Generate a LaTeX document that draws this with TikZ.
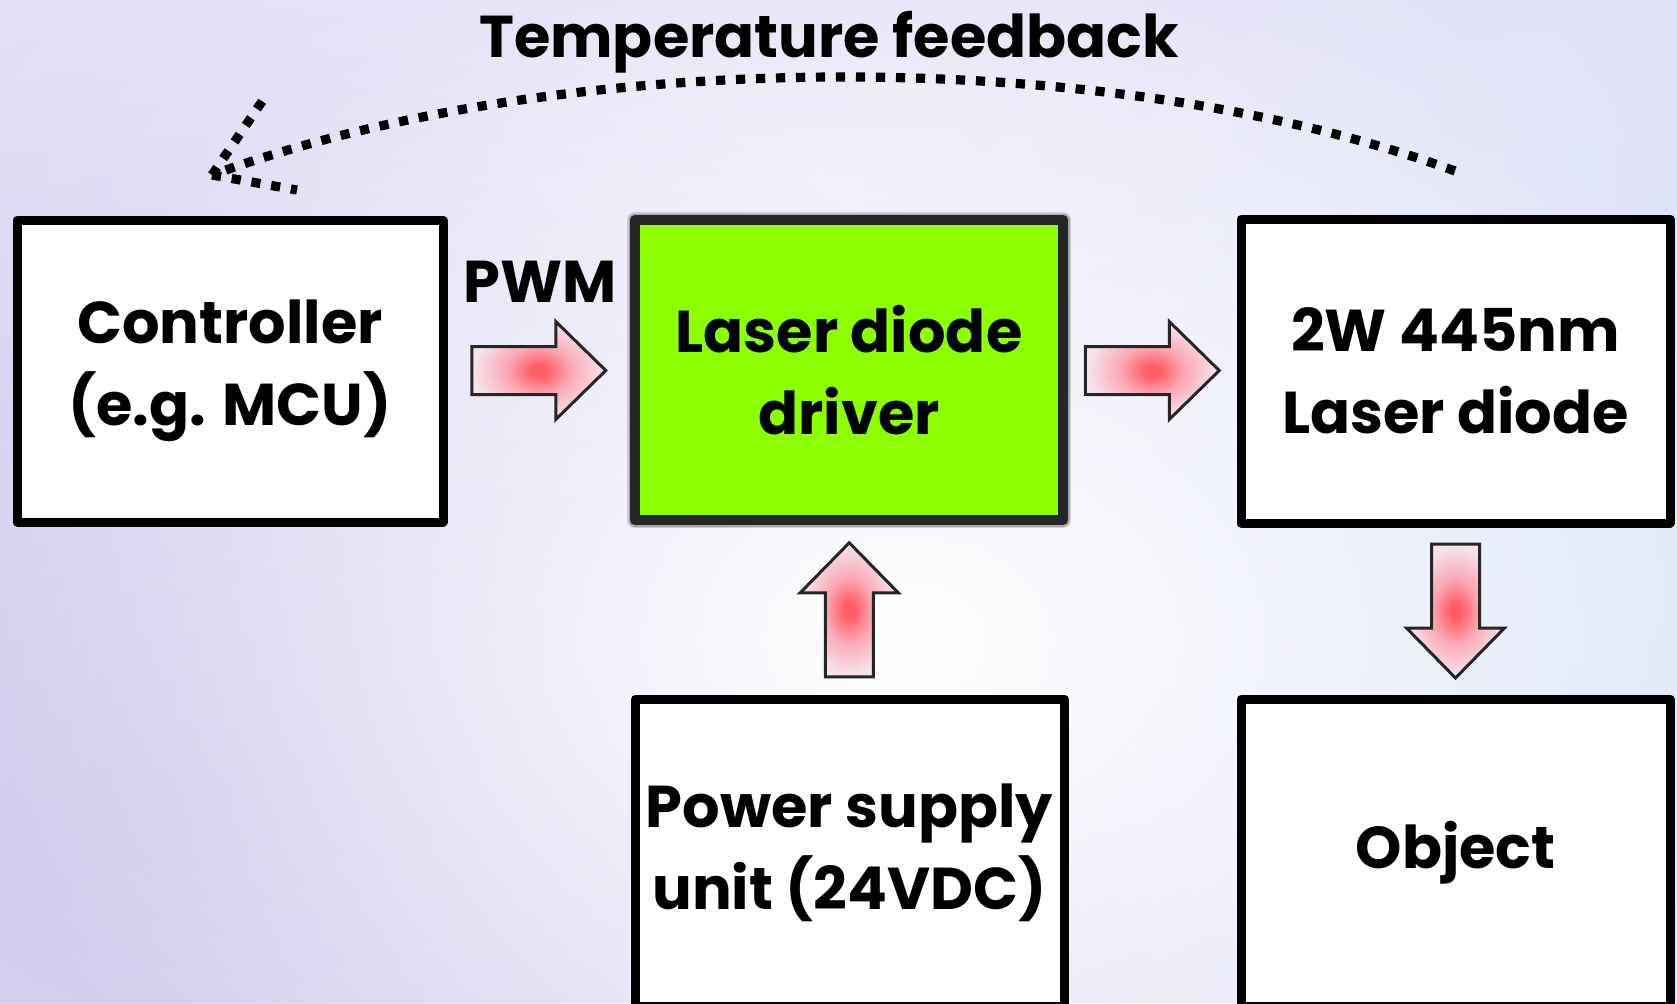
\documentclass[tikz,border=0pt]{standalone}
\usepackage{fontspec}
\setmainfont{Poppins}
\usetikzlibrary{calc,fadings}
\definecolor{bgbase}{HTML}{E3DFF7}
\definecolor{bgleft}{HTML}{D0C8EC}
\definecolor{bgright}{HTML}{DDE7F9}
\definecolor{drvgreen}{RGB}{140,255,0}
\definecolor{arrowred}{RGB}{255,95,105}
\definecolor{arrowpink}{RGB}{250,168,180}
\definecolor{arrowpale}{RGB}{246,226,236}
\pgfdeclareradialshading{arrowglow}{\pgfpoint{0bp}{0bp}}{color(0bp)=(arrowred); color(3bp)=(arrowred); color(12bp)=(arrowpink); color(24bp)=(arrowpale); color(50bp)=(arrowpale)}
\tikzfading[name=glow, inner color=transparent!0, outer color=transparent!100]
\newcommand\boxfont{\bfseries\fontsize{29.5}{41}\selectfont}
\newcommand\titlefont{\bfseries\fontsize{29.5}{30}\selectfont}
\newcommand\blockarrow[2]{%
  \shadedraw[arrowsty, shift={#1}, rotate=#2]
    (-67,-24) -- (17,-24) -- (17,-49) -- (67,0) -- (17,49) -- (17,24) -- (-67,24) -- cycle;}
\begin{document}
\begin{tikzpicture}[x=0.5pt,y=-0.5pt,
  box/.style={draw=black, line width=4.5pt, fill=white, minimum width=213pt,
    minimum height=151pt, align=center, inner sep=0pt, line join=round, font=\boxfont},
  title/.style={font=\titlefont, inner sep=0pt},
  arrowsty/.style={shading=arrowglow, draw=black!85, line width=1.5pt, line join=miter},
  fb/.style={line width=4.6pt, dash pattern=on 4.6pt off 5.4pt, line cap=butt}]
\useasboundingbox (0,0) rectangle (1677,1003);
% background
\fill[bgbase] (0,0) rectangle (1677,1003);
\fill[bgleft, path fading=glow] (180,800) ellipse [x radius=500pt, y radius=400pt];
\fill[bgright, path fading=glow] (1580,560) ellipse [x radius=400pt, y radius=420pt];
\fill[white, path fading=glow] (900,640) ellipse [x radius=480pt, y radius=340pt];
\fill[white, opacity=0.35, path fading=glow] (820,170) ellipse [x radius=500pt, y radius=200pt];
% boxes
\node[box] (ctrl) at (230,371) {Controller\\(e.g. MCU)};
\draw[black, opacity=0.15, line width=8pt, line join=round] (635,220) rectangle (1063,520);
\draw[black, opacity=0.2, line width=6.5pt, line join=round] (635,220) rectangle (1063,520);
\node[box, fill=drvgreen, draw=black!85, line width=5pt, minimum width=214pt, minimum height=150pt] (drv) at (849,370) {Laser diode\\driver};
\node[box, minimum width=214.5pt, minimum height=152pt] (ld) at (1455.5,371) {2W 445nm\\Laser diode};
\node[box, minimum width=214.5pt, minimum height=153.5pt] (psu) at (849.5,852.5) {Power supply\\unit (24VDC)};
\node[box, minimum width=214.5pt, minimum height=153.5pt] (obj) at (1455.5,852.5) {Object};
% block arrows
\blockarrow{($(ctrl.east)!0.5!(drv.west)$)}{0}
\blockarrow{($(drv.east)!0.5!(ld.west)$)}{0}
\blockarrow{($(psu.north)!0.5!(drv.south)$)}{90}
\blockarrow{($(ld.south)!0.5!(obj.north)$)}{-90}
% labels
\node[title, anchor=base] (pwm) at (540,302) {PWM};
\node[title, anchor=base] (tfb) at (829,57) {Temperature feedback};
% feedback arc
\coordinate (fbs) at (1455,171);
\coordinate (fbe) at (212,175);
\draw[fb] (fbs) .. controls (1105,43) and (562,47) .. (fbe);
\draw[fb] (fbe) -- ++(51,-75);
\draw[fb] (fbe) -- ++(85,15);
\end{tikzpicture}
\end{document}
